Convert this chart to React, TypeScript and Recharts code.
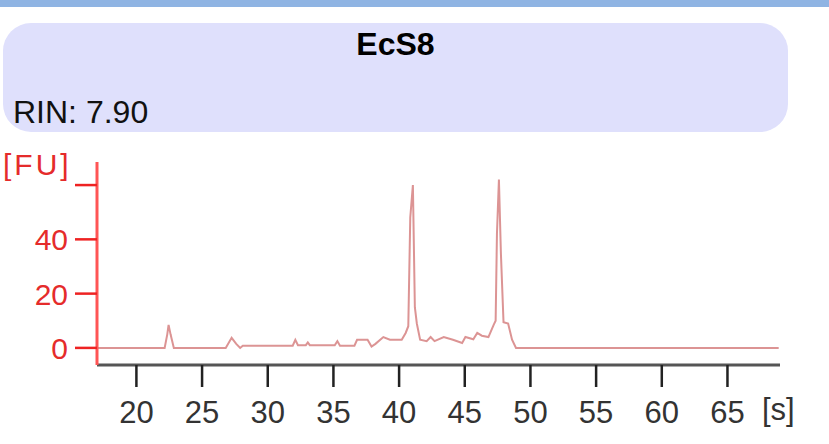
import { LineChart, Line, XAxis, YAxis } from "recharts";

// migration time [s] and fluorescence [FU]
const times = [
  17, 22.15, 22.35, 22.45, 22.6, 22.7, 22.85, 26.8, 27.25, 27.6, 27.9, 28.1,
  31.9, 32.1, 32.3, 32.9, 33.05, 33.2, 35.1, 35.3, 35.5, 36.6, 36.8, 37.6,
  37.9, 38.2, 38.8, 39.3, 40.2, 40.5, 40.7, 40.85, 41.05, 41.2, 41.35, 41.6,
  42.1, 42.4, 42.7, 43.4, 44.1, 44.8, 45.05, 45.65, 45.95, 46.3, 46.8, 47.2,
  47.35, 47.45, 47.6, 47.75, 47.95, 48.3, 48.6, 48.9, 68.9,
];
const fu = [
  0, 0, 5, 8.5, 5, 3, 0, 0, 3.7, 1.5, 0, 0.8,
  0.8, 3, 1, 1, 2, 1, 1, 2.5, 0.8, 0.8, 3, 3,
  0.5, 1.5, 4, 3, 3, 5.5, 8, 48, 60, 15, 9, 3,
  2.5, 4, 2.5, 4, 3, 1.8, 4, 3.2, 5.5, 4.5, 4, 8.5,
  10, 42, 62, 35, 9.5, 9, 3, 0, 0,
];

const xTicks = [20, 25, 30, 35, 40, 45, 50, 55, 60, 65];
const yTicks = [0, 20, 40, 60];
const yLabels = ["0", "20", "40", ""];

const sampleName = "EcS8";
const rinText = "RIN: 7.90";

const data = times.map((t, i) => ({ t, fu: fu[i] }));

const FONT = "'Liberation Sans', Arial, sans-serif";

function XTick(props: any) {
  const { x, y, payload } = props;
  return (
    <text
      x={x}
      y={y + 36}
      textAnchor="middle"
      fontFamily={FONT}
      fontSize={31}
      fill="#333"
    >
      {payload.value}
    </text>
  );
}

function YTick(props: any) {
  const { x, y, payload } = props;
  const label = yLabels[yTicks.indexOf(payload.value)];
  if (!label) return null;
  return (
    <text
      x={x}
      y={y + 11}
      textAnchor="end"
      fontFamily={FONT}
      fontSize={30}
      fill="#e52b2b"
    >
      {label}
    </text>
  );
}

export default function App() {
  return (
    <div
      style={{
        position: "absolute",
        left: 0,
        top: 0,
        width: 829,
        height: 444,
        background: "#fff",
        fontFamily: FONT,
        overflow: "hidden",
      }}
    >
      <div
        style={{
          position: "absolute",
          left: 0,
          top: 0,
          width: 829,
          height: 7,
          background: "#8fb4e3",
        }}
      />
      <div
        style={{
          position: "absolute",
          left: 3,
          top: 23,
          width: 785,
          height: 109,
          borderRadius: 28,
          background: "#dfe0fc",
        }}
      />
      <div
        style={{
          position: "absolute",
          left: 3,
          top: 28,
          width: 785,
          textAlign: "center",
          fontSize: 32,
          lineHeight: "32px",
          fontWeight: "bold",
          color: "#000",
        }}
      >
        {sampleName}
      </div>
      <div
        style={{
          position: "absolute",
          left: 13,
          top: 96,
          fontSize: 32,
          lineHeight: "32px",
          color: "#111",
        }}
      >
        {rinText}
      </div>
      <div
        style={{
          position: "absolute",
          left: 3,
          top: 149,
          fontSize: 30,
          lineHeight: "32px",
          letterSpacing: 3,
          color: "#e52b2b",
        }}
      >
        [FU]
      </div>
      <div
        style={{
          position: "absolute",
          left: 762,
          top: 394,
          fontSize: 31,
          lineHeight: "32px",
          color: "#333",
        }}
      >
        [s]
      </div>
      <div style={{ position: "absolute", left: 0, top: 0 }}>
        <LineChart
          width={829}
          height={444}
          data={data}
          margin={{ top: 162, right: 49, bottom: 0, left: 0 }}
        >
          <XAxis
            type="number"
            dataKey="t"
            domain={[17, 69]}
            ticks={xTicks}
            height={79}
            tickSize={22}
            tickMargin={0}
            axisLine={{ stroke: "#555", strokeWidth: 3 }}
            tickLine={{ stroke: "#222", strokeWidth: 2.5 }}
            tick={<XTick />}
            interval={0}
          />
          <YAxis
            type="number"
            domain={[-6.3, 68.5]}
            ticks={yTicks}
            width={97}
            tickSize={22}
            tickMargin={7}
            axisLine={{ stroke: "#ff5555", strokeWidth: 3 }}
            tickLine={{ stroke: "#ee2222", strokeWidth: 2.5 }}
            tick={<YTick />}
            interval={0}
            allowDataOverflow
          />
          <Line
            type="linear"
            dataKey="fu"
            stroke="#dc9494"
            strokeWidth={2}
            dot={false}
            isAnimationActive={false}
          />
        </LineChart>
      </div>
    </div>
  );
}
